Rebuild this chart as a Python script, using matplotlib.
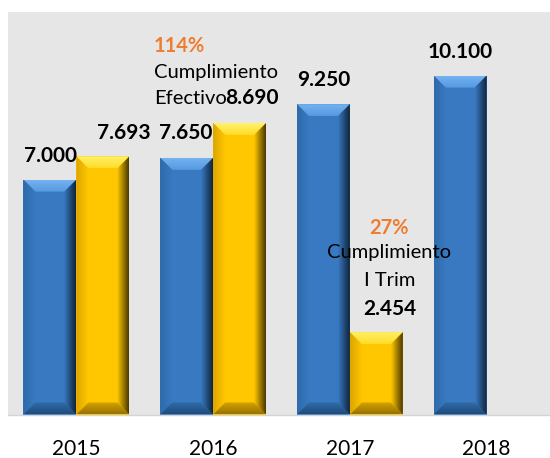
import numpy as np
from matplotlib import pyplot as plt
from matplotlib.patches import Polygon
from matplotlib.colors import LinearSegmentedColormap

# data
years = ['2015', '2016', '2017', '2018']
meta = [7000, 7650, 9250, 10100]            # blue bars
ejecutado = [7693, 8690, 2454, np.nan]      # yellow bars (no 2018 value)
meta_labels = ['7.000', '7.650', '9.250', '10.100']
ejec_labels = ['7.693', '8.690', '2.454']
cumplimiento = ['114%', '27%']

BLUE = '#3879c1'
YELLOW = '#ffc700'
ORANGE = '#ed7d31'
BG = '#e7e6e6'

PX_X = 136.8     # pixels per category
PX_Y = 0.03355   # pixels per unit
BEVEL = 12       # bevel size in pixels

BLUE_SHADES = dict(top_out='#74b2f0', top_in='#5599e0', right='#0f243b',
                   left_out='#2f6aa9', bottom_out='#1f4b7c', bottom_in='#316ca9')
YELLOW_SHADES = dict(top_out='#fff26a', top_in='#ffdc2a', right='#4a3800',
                     left_out='#dca400', bottom_out='#977200', bottom_in='#d6a300')


def gradient_poly(ax, pts, c0, c1, horizontal):
    '''
    fill polygon pts with a linear gradient c0 -> c1 (left->right or bottom->top)
    '''
    poly = Polygon(pts, closed=True, transform=ax.transData)
    xs = [p[0] for p in pts]
    ys = [p[1] for p in pts]
    g = np.linspace(0, 1, 64)
    grad = g.reshape(1, -1) if horizontal else g.reshape(-1, 1)
    cmap = LinearSegmentedColormap.from_list('g', [c0, c1])
    im = ax.imshow(grad, cmap=cmap, vmin=0, vmax=1, origin='lower', aspect='auto',
                   extent=[min(xs), max(xs), min(ys), max(ys)],
                   interpolation='bilinear', zorder=3)
    im.set_clip_path(poly)


def bevel_bar(ax, rect, face, s):
    x0 = rect.get_x()
    x1 = x0 + rect.get_width()
    y0 = rect.get_y()
    y1 = y0 + rect.get_height()
    bx = BEVEL / PX_X
    by = BEVEL / PX_Y

    top = [(x0, y1), (x1, y1), (x1 - bx, y1 - by), (x0 + bx, y1 - by)]
    left = [(x0, y1), (x0 + bx, y1 - by), (x0 + bx, y0 + by), (x0, y0)]
    bottom = [(x0, y0), (x1, y0), (x1 - bx, y0 + by), (x0 + bx, y0 + by)]
    right = [(x1, y1), (x1, y0), (x1 - bx, y0 + by), (x1 - bx, y1 - by)]

    gradient_poly(ax, top, s['top_in'], s['top_out'], False)
    gradient_poly(ax, left, s['left_out'], face, True)
    gradient_poly(ax, bottom, s['bottom_out'], s['bottom_in'], False)
    gradient_poly(ax, right, face, s['right'], True)


def main():
    plt.rcParams['font.family'] = ['Lato', 'DejaVu Sans']

    fig = plt.figure(figsize=(5.5, 4.58), dpi=100)
    ax = fig.add_axes([8 / 550, (458 - 414.5) / 458, 547 / 550, 402.6 / 458])
    ax.set_facecolor(BG)
    ax.set_autoscale_on(False)

    x = np.arange(len(years))
    w = 53 / PX_X

    blue = ax.bar(x - w / 2, meta, w, color=BLUE, zorder=2)
    yellow = ax.bar(x + w / 2, ejecutado, w, color=YELLOW, zorder=2)

    for r in blue:
        bevel_bar(ax, r, BLUE, BLUE_SHADES)
    for r in yellow:
        if np.isfinite(r.get_height()):
            bevel_bar(ax, r, YELLOW, YELLOW_SHADES)

    ax.set_xlim(-0.5, 3.5)
    ax.set_ylim(0, 12000)

    bold = dict(fontsize=15, fontweight='bold', va='baseline', zorder=5)
    # labels on blue bars
    ax.text(-0.1915, 7526, meta_labels[0], ha='center', **bold)
    ax.text(0.803, 8212, meta_labels[1], ha='center', **bold)
    ax.text(1.807, 9791, meta_labels[2], ha='center', **bold)
    ax.text(2.803, 10617, meta_labels[3], ha='center', **bold)
    # labels on yellow bars
    ax.text(0.345, 8212, ejec_labels[0], ha='center', **bold)
    ax.text(1.0855, 9255, ejec_labels[1], ha='left', **bold)
    ax.text(2.29, 2966, ejec_labels[2], ha='center', **bold)

    # cumplimiento notes
    ax.text(0.5665, 10814, cumplimiento[0], ha='left', va='baseline', fontsize=14.5,
            fontweight='bold', color=ORANGE, zorder=5)
    ax.text(0.5665, 10021, 'Cumplimiento', ha='left', va='baseline', fontsize=14.5, zorder=5)
    ax.text(0.5665, 9255, 'Efectivo', ha='left', va='baseline', fontsize=14.5, zorder=5)

    ax.text(2.288, 5380, cumplimiento[1], ha='center', va='baseline', fontsize=14.5,
            fontweight='bold', color=ORANGE, zorder=5)
    ax.text(2.288, 4672, 'Cumplimiento', ha='center', va='baseline', fontsize=14.5, zorder=5)
    ax.text(2.288, 3830, 'I Trim', ha='center', va='baseline', fontsize=14.5, zorder=5)

    ax.set_xticks(x, years, fontsize=15)
    ax.set_yticks([])
    ax.tick_params(axis='x', length=0, pad=17.5)
    for side in ['top', 'left', 'right']:
        ax.spines[side].set_visible(False)
    ax.spines['bottom'].set_color('#d4d4d4')
    ax.spines['bottom'].set_linewidth(1)

    fig.savefig('out.png', dpi=100)


if __name__ == '__main__':
    main()
